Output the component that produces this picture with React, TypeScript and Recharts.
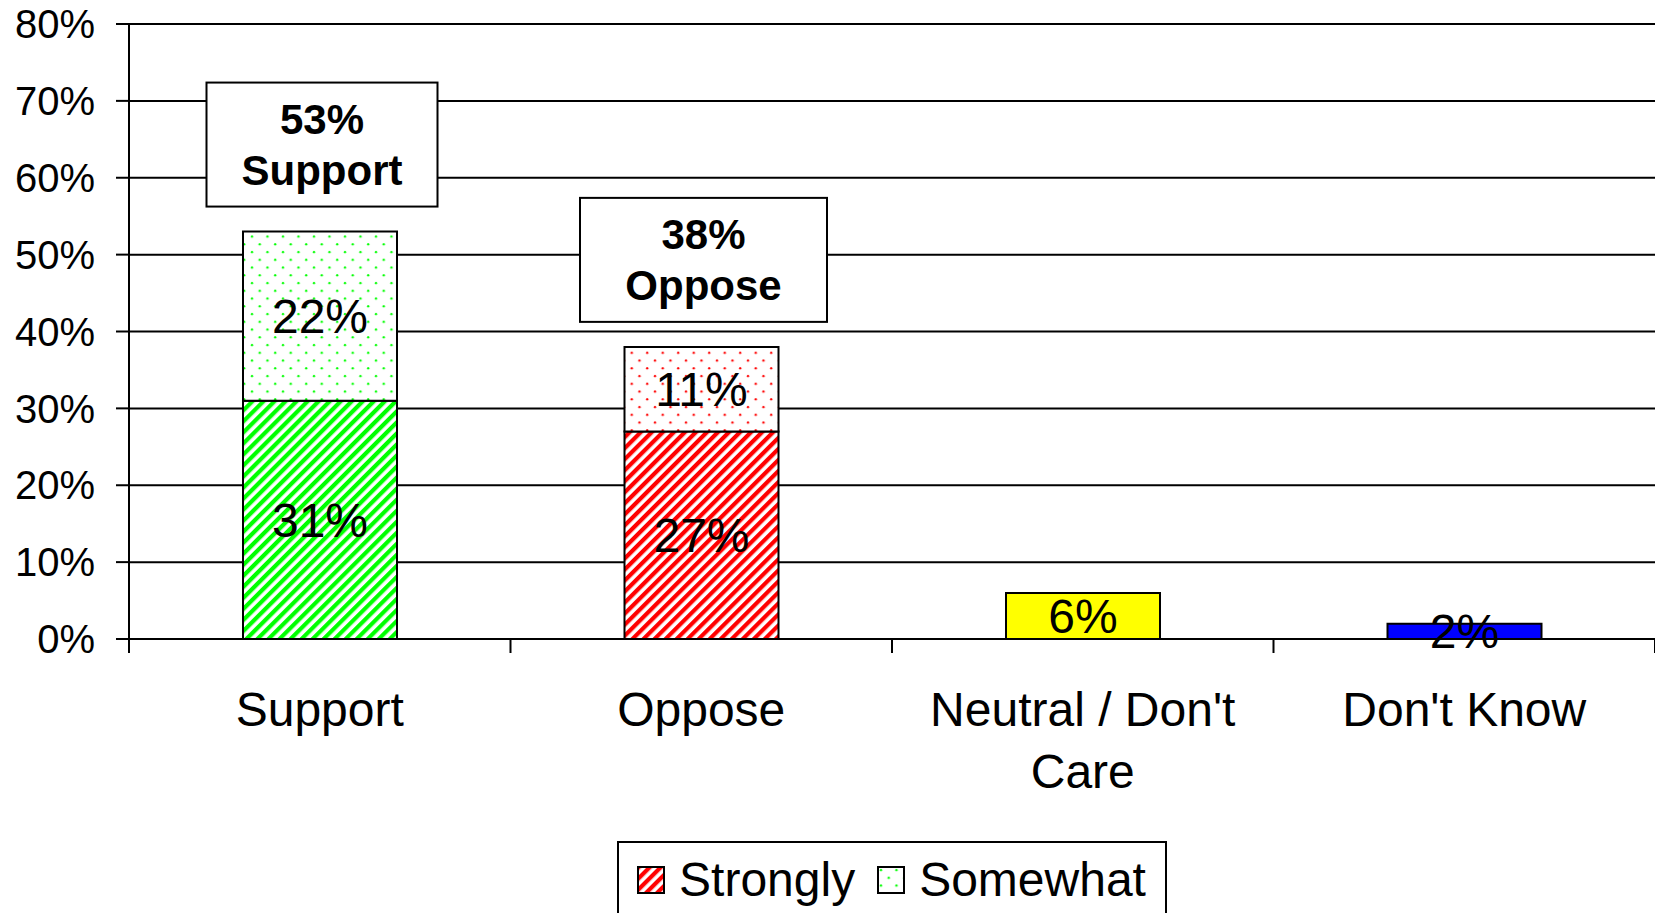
/**
 * Stacked bar chart: support / oppose survey result with pattern fills.
 */

import React from 'react';
import { BarChart, Bar, XAxis, YAxis, CartesianGrid, Legend, LabelList, Cell } from 'recharts';

// ============================================================================
// DATA
// ============================================================================

const CATEGORIES = ['Support', 'Oppose', "Neutral / Don't Care", "Don't Know"];
const STRONGLY = [31, 27, null, null];
const SOMEWHAT = [22, 11, null, null];
const SINGLE = [null, null, 6, 2];
const Y_TICKS = [0, 10, 20, 30, 40, 50, 60, 70, 80];

// ============================================================================
// CONSTANTS
// ============================================================================

const FONT = '"Liberation Sans", Arial, Helvetica, sans-serif';
const WIDTH = 1655;
const HEIGHT = 913;

const GREEN = '#00ff00';
const RED = '#ff0000';
const STRONG_FILLS = ['url(#stripesGreen)', 'url(#stripesRed)', 'none', 'none'];
const SOME_FILLS = ['url(#dotsGreen)', 'url(#dotsRed)', 'none', 'none'];
const SINGLE_FILLS = ['none', 'none', '#ffff00', '#0000ff'];
const BOX_WIDTHS = [231, 247, 0, 0];

const data = CATEGORIES.map((category, i) => ({
  category,
  strongly: STRONGLY[i],
  somewhat: SOMEWHAT[i],
  single: SINGLE[i],
  total: STRONGLY[i] != null ? (STRONGLY[i] as number) + (SOMEWHAT[i] as number) : null,
}));

// simple word wrap for the category labels
let measureCtx: CanvasRenderingContext2D | null = null;
const wrapWords = (label: string, maxWidth: number) => {
  if (!measureCtx) measureCtx = document.createElement('canvas').getContext('2d');
  const ctx = measureCtx!;
  ctx.font = `48px ${FONT}`;
  const lines: string[] = [];
  let current = '';
  label.split(' ').forEach((word) => {
    const attempt = current ? `${current} ${word}` : word;
    if (current && ctx.measureText(attempt).width > maxWidth) {
      lines.push(current);
      current = word;
    } else {
      current = attempt;
    }
  });
  if (current) lines.push(current);
  return lines;
};

// ============================================================================
// PATTERNS
// ============================================================================

const Stripes = ({ id, color }: { id: string; color: string }) => (
  <pattern id={id} width={7.8} height={7.8} patternUnits="userSpaceOnUse" patternTransform="rotate(45)">
    <rect width={7.8} height={7.8} fill="#fff" />
    <rect width={4.2} height={7.8} fill={color} />
  </pattern>
);

const Dots = ({ id, color }: { id: string; color: string }) => (
  <pattern id={id} width={15.5} height={15.5} patternUnits="userSpaceOnUse">
    <rect width={15.5} height={15.5} fill="#fff" />
    <circle cx={4} cy={4} r={1.2} fill={color} />
    <circle cx={11.75} cy={11.75} r={1.2} fill={color} />
  </pattern>
);

// ============================================================================
// CUSTOM PIECES
// ============================================================================

const CategoryTick = (props: any) => {
  const { x, y, payload, index } = props;
  const half = payload?.offset || 190.75;
  const last = index === CATEGORIES.length - 1;
  const lines = wrapWords(String(payload.value), 360);
  return (
    <g>
      <line x1={x - half} x2={x - half} y1={y} y2={y + 14} stroke="#000" strokeWidth={2} />
      {last && <line x1={x + half} x2={x + half} y1={y} y2={y + 14} stroke="#000" strokeWidth={2} />}
      <text x={x} y={y + 87} textAnchor="middle" fill="#000" fontSize={48} fontFamily={FONT}>
        {lines.map((line, i) => (
          <tspan key={i} x={x} dy={i === 0 ? 0 : 62}>
            {line}
          </tspan>
        ))}
      </text>
    </g>
  );
};

const AnnotationBox = (props: any) => {
  const { value, index } = props;
  if (value == null) return null;
  const vb = props.viewBox ?? props;
  const cx = vb.x + vb.width / 2 + 2;
  const bottom = vb.y - 25;
  const boxH = 124;
  const boxW = BOX_WIDTHS[index] || 238;
  const mid = bottom - boxH / 2;
  return (
    <g>
      <rect x={cx - boxW / 2} y={bottom - boxH} width={boxW} height={boxH} fill="#fff" stroke="#000" strokeWidth={2} />
      <text x={cx} y={mid - 11} textAnchor="middle" fontSize={42} fontWeight="bold" fontFamily={FONT} fill="#000">
        {`${value}%`}
      </text>
      <text x={cx} y={mid + 40} textAnchor="middle" fontSize={42} fontWeight="bold" fontFamily={FONT} fill="#000">
        {CATEGORIES[index]}
      </text>
    </g>
  );
};

const LegendIcon = ({ kind }: { kind: 'strong' | 'some' }) => (
  <svg width={28} height={28} style={{ display: 'block', marginTop: 10 }}>
    <defs>
      <Stripes id="legendStripes" color={RED} />
      <Dots id="legendDots" color={GREEN} />
    </defs>
    <rect
      x={1}
      y={1}
      width={26}
      height={26}
      fill={kind === 'strong' ? 'url(#legendStripes)' : 'url(#legendDots)'}
      stroke="#000"
      strokeWidth={2}
    />
  </svg>
);

const LegendBox = () => (
  <div
    style={{
      width: '100%',
      height: 72,
      paddingLeft: 129,
      boxSizing: 'border-box',
      display: 'flex',
      justifyContent: 'center',
    }}
  >
    <div
      style={{
        height: 72,
        boxSizing: 'border-box',
        border: '2px solid #000',
        borderBottom: 'none',
        padding: '13px 19px 0 18px',
        display: 'flex',
        alignItems: 'flex-start',
        fontFamily: FONT,
        fontSize: 48,
        lineHeight: '48px',
        color: '#000',
        background: '#fff',
      }}
    >
      <LegendIcon kind="strong" />
      <span style={{ marginLeft: 14 }}>Strongly</span>
      <span style={{ marginLeft: 22 }}>
        <LegendIcon kind="some" />
      </span>
      <span style={{ marginLeft: 14 }}>Somewhat</span>
    </div>
  </div>
);

// ============================================================================
// COMPONENT
// ============================================================================

export default function App() {
  return (
    <div style={{ position: 'absolute', left: 0, top: 0, width: WIDTH, height: HEIGHT, background: '#fff' }}>
      <BarChart
        width={WIDTH}
        height={HEIGHT}
        data={data}
        margin={{ top: 24, right: 0, left: 0, bottom: 0 }}
        barSize={154}
      >
        <defs>
          <Stripes id="stripesGreen" color={GREEN} />
          <Stripes id="stripesRed" color={RED} />
          <Dots id="dotsGreen" color={GREEN} />
          <Dots id="dotsRed" color={RED} />
        </defs>
        <CartesianGrid vertical={false} stroke="#000" strokeWidth={2} />
        <XAxis
          dataKey="category"
          height={202}
          interval={0}
          tickSize={0}
          tickMargin={0}
          tickLine={false}
          axisLine={{ stroke: '#000', strokeWidth: 2 }}
          tick={<CategoryTick />}
        />
        <YAxis
          domain={[0, 80]}
          ticks={Y_TICKS}
          interval={0}
          width={129}
          tickSize={13}
          tickMargin={21}
          tickFormatter={(v) => `${v}%`}
          axisLine={{ stroke: '#000', strokeWidth: 2 }}
          tickLine={{ stroke: '#000', strokeWidth: 2 }}
          tick={{ fill: '#000', fontSize: 40, fontFamily: FONT }}
        />
        <Legend verticalAlign="bottom" height={72} content={<LegendBox />} wrapperStyle={{ left: 0, width: WIDTH, bottom: 0 }} />

        <Bar dataKey="strongly" stackId="a" stroke="#000" strokeWidth={2} isAnimationActive={false}>
          {data.map((_, i) => (
            <Cell key={i} fill={STRONG_FILLS[i]} />
          ))}
          <LabelList
            dataKey="strongly"
            position="center"
            formatter={(v: any) => `${v}%`}
            fill="#000"
            fontSize={48}
            fontFamily={FONT}
          />
        </Bar>
        <Bar dataKey="somewhat" stackId="a" stroke="#000" strokeWidth={2} isAnimationActive={false}>
          {data.map((_, i) => (
            <Cell key={i} fill={SOME_FILLS[i]} />
          ))}
          <LabelList
            dataKey="somewhat"
            position="center"
            formatter={(v: any) => `${v}%`}
            fill="#000"
            fontSize={48}
            fontFamily={FONT}
          />
          <LabelList dataKey="total" content={(p: any) => <AnnotationBox {...p} />} />
        </Bar>
        <Bar dataKey="single" stackId="a" stroke="#000" strokeWidth={2} isAnimationActive={false}>
          {data.map((_, i) => (
            <Cell key={i} fill={SINGLE_FILLS[i]} />
          ))}
          <LabelList
            dataKey="single"
            position="center"
            formatter={(v: any) => `${v}%`}
            fill="#000"
            fontSize={48}
            fontFamily={FONT}
          />
        </Bar>
      </BarChart>
    </div>
  );
}
